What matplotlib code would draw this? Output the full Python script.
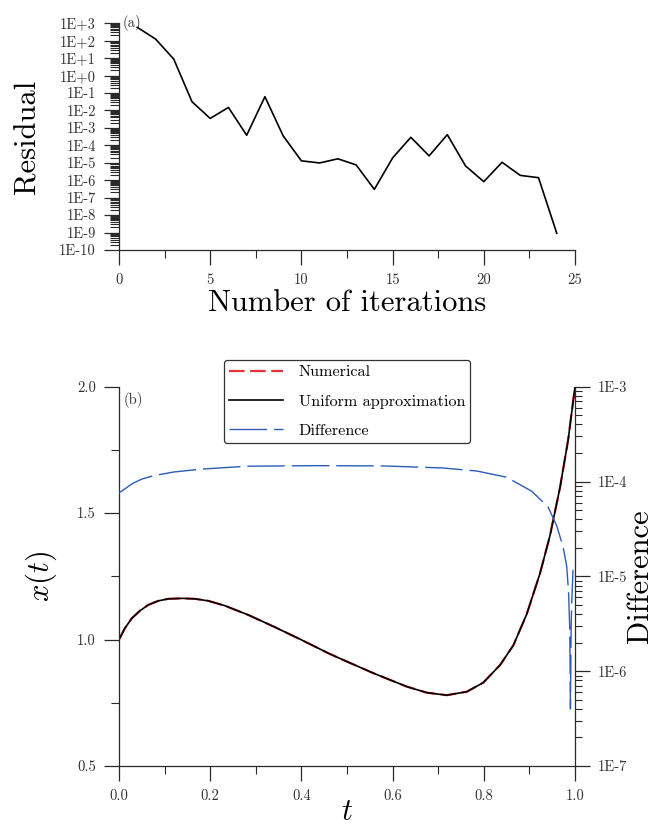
import numpy as np
import matplotlib
matplotlib.use("Agg")
import matplotlib.pyplot as plt
from matplotlib.ticker import FixedLocator, LogLocator, NullFormatter, MultipleLocator

plt.rcParams['font.family'] = ['cmr10', 'DejaVu Serif']
plt.rcParams['mathtext.fontset'] = 'cm'
plt.rcParams['axes.unicode_minus'] = False
plt.rcParams['axes.formatter.use_mathtext'] = True

# ---------------- data: panel (a) ----------------
iterations = [1, 2, 3, 4, 5, 6, 7, 8, 9, 10, 11, 12, 13, 14, 15, 16, 17, 18, 19, 20, 21, 22, 23, 24]
residual = [5.9e2, 1.26e2, 8.9e0, 3.2e-2, 3.5e-3, 1.5e-2, 3.8e-4, 6.2e-2, 3.5e-4, 1.3e-5,
            9.8e-6, 1.7e-5, 7.6e-6, 3.0e-7, 1.9e-5, 2.9e-4, 2.5e-5, 4.1e-4, 6.6e-6, 8.3e-7,
            1.07e-5, 1.9e-6, 1.4e-6, 9.1e-10]
res_ticks = [1e3, 1e2, 1e1, 1e0, 1e-1, 1e-2, 1e-3, 1e-4, 1e-5, 1e-6, 1e-7, 1e-8, 1e-9, 1e-10]
res_ticklabels = ["1E+3", "1E+2", "1E+1", "1E+0", "1E-1", "1E-2", "1E-3", "1E-4", "1E-5",
                  "1E-6", "1E-7", "1E-8", "1E-9", "1E-10"]
it_ticks = [0, 5, 10, 15, 20, 25]
it_ticklabels = ["0", "5", "10", "15", "20", "25"]

# ---------------- data: panel (b) ----------------
t_x = [0.0, 0.013, 0.028, 0.046, 0.064, 0.086, 0.108, 0.138, 0.167, 0.196, 0.232, 0.284,
       0.342, 0.401, 0.459, 0.496, 0.558, 0.631, 0.675, 0.719, 0.763, 0.799, 0.836, 0.865,
       0.894, 0.923, 0.945, 0.967, 0.985, 1.0]
x_uniform = [1.0, 1.045, 1.084, 1.114, 1.137, 1.153, 1.161, 1.163, 1.161, 1.153, 1.134, 1.097,
             1.049, 0.998, 0.946, 0.916, 0.867, 0.814, 0.790, 0.780, 0.794, 0.830, 0.900, 0.978,
             1.10, 1.26, 1.41, 1.60, 1.79, 2.0]
x_numerical = [1.0, 1.045, 1.084, 1.114, 1.137, 1.153, 1.161, 1.163, 1.161, 1.153, 1.134, 1.097,
               1.049, 0.998, 0.946, 0.916, 0.867, 0.814, 0.790, 0.780, 0.794, 0.830, 0.900, 0.978,
               1.10, 1.26, 1.41, 1.60, 1.79, 2.0]
t_diff = [0.0, 0.015, 0.03, 0.05, 0.075, 0.12, 0.18, 0.28, 0.43, 0.58, 0.71, 0.785, 0.85,
          0.905, 0.941, 0.960, 0.974, 0.982, 0.986, 0.9885, 0.990, 0.9915, 0.993, 0.9956]
difference = [7.59e-5, 8.51e-5, 9.55e-5, 1.06e-4, 1.15e-4, 1.26e-4, 1.35e-4, 1.45e-4, 1.47e-4,
              1.46e-4, 1.39e-4, 1.29e-4, 1.11e-4, 7.9e-5, 5.4e-5, 3.4e-5, 2.04e-5, 1.26e-5,
              6.6e-6, 2.8e-6, 4.0e-7, 2.8e-6, 5.6e-6, 1.17e-5]
diff_ticks = [1e-3, 1e-4, 1e-5, 1e-6, 1e-7]
diff_ticklabels = ["1E-3", "1E-4", "1E-5", "1E-6", "1E-7"]
xt_ticks = [0.5, 1.0, 1.5, 2.0]
xt_ticklabels = ["0.5", "1.0", "1.5", "2.0"]
t_ticks = [0.0, 0.2, 0.4, 0.6, 0.8, 1.0]
t_ticklabels = ["0.0", "0.2", "0.4", "0.6", "0.8", "1.0"]

W, H = 653, 827
fig = plt.figure(figsize=(W / 100, H / 100), dpi=100)

spine_c = '#2a2a2a'
tick_fs = 10.5
lab_fs = 22
PX = 0.72  # points per pixel

def style(ax):
    ax.tick_params(which='major', direction='out', length=15 * PX, width=0.9,
                   color=spine_c, labelsize=tick_fs, pad=8 * PX, labelcolor='#333333')
    ax.tick_params(which='minor', direction='out', length=8 * PX, width=0.8, color=spine_c)
    for s in ax.spines.values():
        s.set_color(spine_c)
        s.set_linewidth(0.9)

# ---------------- panel (a) ----------------
ax1 = fig.add_axes([119 / W, 1 - 250 / H, (575 - 119) / W, (250 - 23.3) / H])
ax1.plot(iterations, residual, color='black', lw=1.2)
ax1.set_yscale('log')
ax1.set_ylim(1e-10, 1e3)
ax1.set_xlim(0, 25)
ax1.yaxis.set_major_locator(FixedLocator(res_ticks))
ax1.set_yticklabels(res_ticklabels)
ax1.yaxis.set_minor_locator(LogLocator(base=10, subs=np.arange(2, 10), numticks=100))
ax1.yaxis.set_minor_formatter(NullFormatter())
ax1.xaxis.set_major_locator(FixedLocator(it_ticks))
ax1.set_xticklabels(it_ticklabels)
ax1.xaxis.set_minor_locator(MultipleLocator(2.5))
ax1.spines['top'].set_visible(False)
ax1.spines['right'].set_visible(False)
style(ax1)
ax1.tick_params(axis='y', which='minor', length=9 * PX)
ax1.set_ylabel("Residual", fontsize=lab_fs, labelpad=13)
ax1.set_xlabel("Number of iterations", fontsize=lab_fs, labelpad=2)
ax1.text(0.008, 1.0, "(a)", transform=ax1.transAxes, fontsize=tick_fs, va='center', ha='left',
         color='#333333')

# ---------------- panel (b) ----------------
ax2 = fig.add_axes([119 / W, 1 - 766 / H, (575 - 119) / W, (766 - 386.7) / H])
l_num, = ax2.plot(t_x, x_numerical, color='#e8323a', lw=1.6, dashes=(7, 2.5), label='Numerical')
l_uni, = ax2.plot(t_x, x_uniform, color='black', lw=1.2, label='Uniform approximation')
ax2.set_xlim(0, 1)
ax2.set_ylim(0.5, 2.0)
ax2.yaxis.set_major_locator(FixedLocator(xt_ticks))
ax2.set_yticklabels(xt_ticklabels)
ax2.yaxis.set_minor_locator(MultipleLocator(0.25))
ax2.xaxis.set_major_locator(FixedLocator(t_ticks))
ax2.set_xticklabels(t_ticklabels)
ax2.xaxis.set_minor_locator(MultipleLocator(0.1))
ax2.spines['top'].set_visible(False)
ax2.spines['right'].set_visible(False)
style(ax2)
ax2.set_ylabel(r"$x(t)$", fontsize=lab_fs, labelpad=13)
ax2.set_xlabel(r"$t$", fontsize=lab_fs, labelpad=-3)
ax2.text(0.01, 0.985, "(b)", transform=ax2.transAxes, fontsize=tick_fs, va='top', ha='left',
         color='#333333')

ax3 = ax2.twinx()
l_dif, = ax3.plot(t_diff, difference, color='#2b5cb8', lw=1.0, dashes=(27, 5), label='Difference')
ax3.set_yscale('log')
ax3.set_ylim(1e-7, 1e-3)
ax3.set_xlim(0, 1)
ax3.yaxis.set_major_locator(FixedLocator(diff_ticks))
ax3.set_yticklabels(diff_ticklabels)
ax3.yaxis.set_minor_locator(LogLocator(base=10, subs=np.arange(2, 10), numticks=100))
ax3.yaxis.set_minor_formatter(NullFormatter())
for s in ['top', 'left', 'bottom']:
    ax3.spines[s].set_visible(False)
style(ax3)
ax3.tick_params(axis='y', which='minor', length=7 * PX)
ax3.set_ylabel("Difference", fontsize=lab_fs, labelpad=-1)

leg = fig.legend(handles=[l_num, l_uni, l_dif], loc='upper center',
                 bbox_to_anchor=(347 / W, 1 - 360 / H), fontsize=11.7, frameon=True,
                 fancybox=True, edgecolor='#333333', framealpha=1, handlelength=3.3,
                 handletextpad=1.0, labelspacing=0.92, borderpad=0.3, borderaxespad=0)
leg.get_frame().set_linewidth(0.9)

fig.savefig("out.png", dpi=100)
